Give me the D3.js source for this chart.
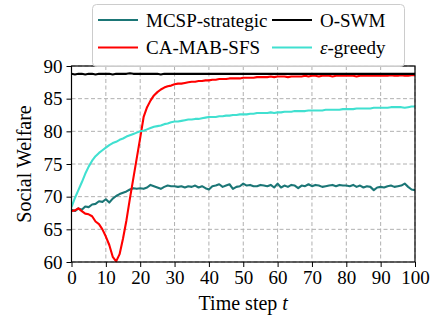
<!DOCTYPE html>
<html><head><meta charset="utf-8">
<script src="https://cdn.jsdelivr.net/npm/d3@7"></script>
<style>html,body{margin:0;padding:0;background:#fff;}svg{display:block;}</style>
</head><body>
<script>
const timeSteps = d3.range(0, 101);
const mcspStrategic = [68.0,67.8,68.2,68.0,68.5,68.4,68.8,68.9,69.3,69.2,69.6,69.1,69.7,70.1,70.4,70.6,70.8,71.1,71.3,71.2,71.3,71.2,71.4,71.8,71.6,71.4,71.2,71.5,71.7,71.6,71.6,71.5,71.6,71.4,71.6,71.5,71.7,71.4,71.6,71.3,71.1,71.6,71.7,71.9,71.5,71.7,71.9,71.2,71.5,71.6,72.0,71.7,71.8,71.6,71.6,71.8,71.7,71.6,71.8,71.4,72.0,71.4,71.7,71.5,71.8,71.7,71.3,71.7,71.6,71.9,71.6,71.8,71.7,71.5,71.6,71.7,71.8,71.6,71.8,71.7,71.7,71.6,71.8,71.5,71.7,71.4,71.6,71.5,71.0,71.4,71.5,71.4,71.6,71.7,71.5,71.6,71.7,72.0,71.5,71.1,71.0];
const caMabSfs = [67.8,67.9,68.2,67.8,67.4,67.3,67.0,66.2,65.8,65.0,63.9,62.6,60.8,60.1,61.2,63.6,66.4,69.7,72.8,75.9,79.0,82.2,83.7,84.7,85.5,86.0,86.4,86.7,86.9,87.0,87.2,87.3,87.3,87.4,87.5,87.6,87.6,87.7,87.7,87.8,87.8,87.9,87.9,88.0,88.0,88.0,88.1,88.1,88.1,88.1,88.2,88.2,88.2,88.2,88.3,88.3,88.3,88.3,88.4,88.3,88.4,88.4,88.4,88.3,88.4,88.4,88.4,88.4,88.5,88.4,88.5,88.5,88.4,88.5,88.5,88.5,88.4,88.5,88.5,88.5,88.5,88.5,88.5,88.4,88.5,88.5,88.5,88.5,88.5,88.5,88.5,88.5,88.5,88.6,88.5,88.5,88.6,88.5,88.5,88.6,88.6];
const oSwm = [88.8,88.7,88.8,88.8,88.7,88.8,88.8,88.7,88.8,88.8,88.8,88.8,88.7,88.8,88.8,88.8,88.8,88.9,88.8,88.8,88.8,88.8,88.8,88.8,88.8,88.8,88.7,88.8,88.8,88.8,88.8,88.8,88.8,88.8,88.8,88.8,88.8,88.8,88.8,88.8,88.8,88.8,88.8,88.8,88.8,88.8,88.8,88.8,88.8,88.8,88.8,88.8,88.8,88.8,88.8,88.8,88.8,88.8,88.8,88.8,88.8,88.8,88.8,88.8,88.8,88.8,88.8,88.8,88.8,88.8,88.8,88.8,88.8,88.8,88.8,88.8,88.8,88.8,88.8,88.8,88.8,88.8,88.8,88.8,88.8,88.8,88.8,88.8,88.8,88.8,88.8,88.8,88.8,88.8,88.8,88.8,88.8,88.8,88.8,88.8,88.8];
const epsGreedy = [68.4,69.8,71.0,72.2,73.5,74.6,75.5,76.2,76.7,77.1,77.5,77.9,78.2,78.4,78.7,78.9,79.2,79.4,79.6,79.8,80.0,80.1,80.3,80.5,80.7,80.8,80.9,81.1,81.2,81.4,81.5,81.5,81.6,81.7,81.8,81.8,81.9,81.9,82.0,82.1,82.2,82.2,82.2,82.3,82.3,82.4,82.4,82.5,82.5,82.6,82.6,82.6,82.7,82.7,82.8,82.8,82.8,82.8,82.9,82.8,82.9,82.9,83.0,83.0,83.0,83.1,83.1,83.1,83.1,83.2,83.2,83.2,83.2,83.2,83.3,83.3,83.3,83.3,83.3,83.4,83.4,83.4,83.4,83.5,83.5,83.5,83.5,83.5,83.6,83.6,83.6,83.6,83.6,83.7,83.7,83.7,83.7,83.6,83.7,83.8,83.8];
const xTicks = d3.range(0, 101, 10);
const yTicks = [60, 65, 70, 75, 80, 85, 90];
const seriesNames = ["MCSP-strategic", "CA-MAB-SFS", "O-SWM", "ε-greedy"];
const seriesColors = ["#1b7676", "#ff0000", "#000000", "#40e0d0"];
const seriesData = [mcspStrategic, caMabSfs, oSwm, epsGreedy];

const W = 438, H = 316;
const L = 71.5, R = 415, T = 66, B = 262;
const FONT = "'Liberation Serif','Times New Roman',serif";
const svg = d3.select("body").append("svg").attr("width", W).attr("height", H);
const x = d3.scaleLinear().domain([0, 100]).range([L, R]);
const y = d3.scaleLinear().domain([60, 90]).range([B, T]);

// grid
const g = svg.append("g");
g.selectAll(".gx").data(xTicks).enter().append("line")
  .attr("x1", d => x(d)).attr("x2", d => x(d)).attr("y1", T).attr("y2", B)
  .attr("stroke", "#b0b0b0").attr("stroke-width", 1).attr("stroke-dasharray", "4,2.5");
g.selectAll(".gy").data(yTicks).enter().append("line")
  .attr("y1", d => y(d)).attr("y2", d => y(d)).attr("x1", L).attr("x2", R)
  .attr("stroke", "#b0b0b0").attr("stroke-width", 1).attr("stroke-dasharray", "4,2.5");

// lines
svg.append("clipPath").attr("id", "clip").append("rect")
  .attr("x", L).attr("y", T - 2).attr("width", R - L).attr("height", B - T + 4);
const line = d3.line().x((d, i) => x(timeSteps[i])).y(d => y(d));
seriesData.forEach((s, k) => {
  svg.append("path").datum(s).attr("d", line).attr("fill", "none")
    .attr("stroke", seriesColors[k]).attr("stroke-width", 2.1)
    .attr("stroke-linejoin", "round").attr("clip-path", "url(#clip)");
});

// axes
const xAxis = svg.append("g").attr("transform", `translate(0,${B})`)
  .call(d3.axisBottom(x).tickValues(xTicks).tickSize(5).tickPadding(4).tickSizeOuter(0));
const yAxis = svg.append("g").attr("transform", `translate(${L},0)`)
  .call(d3.axisLeft(y).tickValues(yTicks).tickSize(5).tickPadding(4).tickSizeOuter(0));
[xAxis, yAxis].forEach(a => {
  a.selectAll("text").attr("font-family", FONT).attr("font-size", 19).attr("fill", "#000");
  a.selectAll("line").attr("stroke", "#000").attr("stroke-width", 1);
  a.select(".domain").remove();
});
svg.append("rect").attr("x", L).attr("y", T).attr("width", R - L).attr("height", B - T)
  .attr("fill", "none").attr("stroke", "#000").attr("stroke-width", 1.2);

// labels
svg.append("text").attr("x", (L + R) / 2).attr("y", 310).attr("text-anchor", "middle")
  .attr("font-family", FONT).attr("font-size", 20)
  .html("Time step <tspan font-style='italic'>t</tspan>");
svg.append("text").attr("transform", `translate(31,${(T + B) / 2}) rotate(-90)`)
  .attr("text-anchor", "middle").attr("font-family", FONT).attr("font-size", 20)
  .text("Social Welfare");

// legend
const lg = svg.append("g");
lg.append("rect").attr("x", 92.5).attr("y", 4.5).attr("width", 312).attr("height", 62).attr("rx", 4)
  .attr("fill", "#fff").attr("fill-opacity", 0.8).attr("stroke", "#cccccc").attr("stroke-width", 1);
const pos = [[98, 20], [98, 47.5], [272, 20], [272, 47.5]];
seriesNames.forEach((n, k) => {
  const [px, py] = pos[k];
  lg.append("line").attr("x1", px).attr("x2", px + 40).attr("y1", py).attr("y2", py)
    .attr("stroke", seriesColors[k]).attr("stroke-width", 2.1);
  const t = lg.append("text").attr("x", px + 48).attr("y", py + 6.5)
    .attr("font-family", FONT).attr("font-size", 19).attr("fill", "#000");
  if (n.startsWith("ε")) {
    t.append("tspan").attr("font-style", "italic").text("ε");
    t.append("tspan").text("-greedy");
  } else t.text(n);
});
</script>
</body></html>
